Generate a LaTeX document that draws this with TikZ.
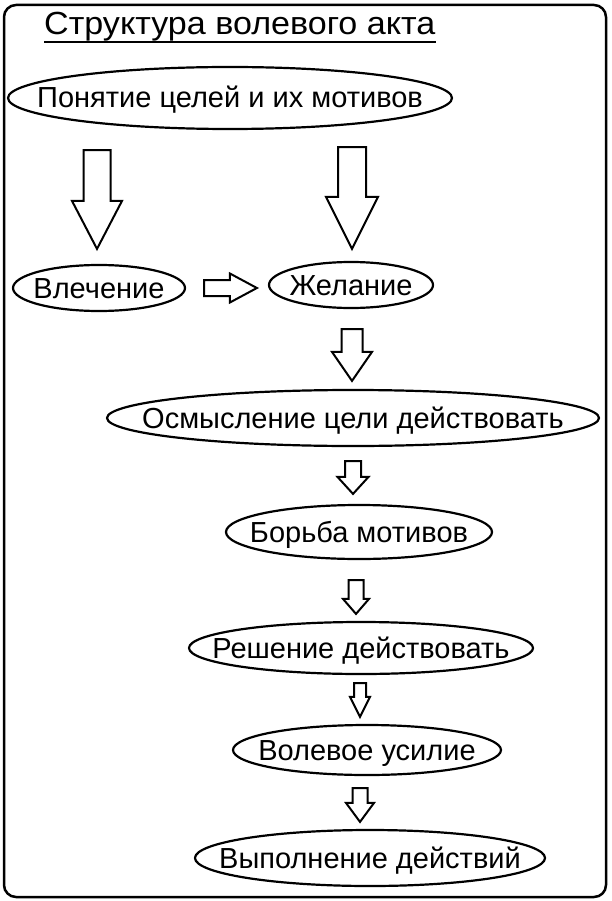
\documentclass[tikz,border=0pt]{standalone}
\usepackage{fontspec}
\setmainfont{Liberation Sans}
\newfontfamily\titlefont[FakeStretch=1.065]{Liberation Sans}
\usetikzlibrary{shapes.geometric,calc}

%% hollow block arrow: start, tip, shaft half width, head half width, head length
\newcommand{\fatarrow}[5]{%
  \coordinate (fa-s) at (#1);
  \coordinate (fa-t) at (#2);
  \coordinate (fa-h) at ($(fa-t)!#5pt!(fa-s)$);
  \draw[arrowdecorate] ($(fa-s)!#3pt!90:(fa-t)$) -- ($(fa-h)!#3pt!90:(fa-t)$)
    -- ($(fa-h)!#4pt!90:(fa-t)$) -- (fa-t) -- ($(fa-h)!#4pt!-90:(fa-t)$)
    -- ($(fa-h)!#3pt!-90:(fa-t)$) -- ($(fa-s)!#3pt!-90:(fa-t)$) -- cycle;
}

\begin{document}
\begin{tikzpicture}
[x=1pt,y=-1pt,
 nodedecorate/.style={shape=ellipse,draw,line width=2.2pt,inner sep=0pt,
   font=\fontsize{29}{32}\selectfont,text height=20pt,text depth=0pt},
 arrowdecorate/.style={draw,line width=2pt,line join=miter},
 framedecorate/.style={draw,line width=2.5pt,rounded corners=12pt},
 titledecorate/.style={anchor=base west,inner sep=0pt,
   font=\titlefont\fontsize{32}{36}\selectfont}]
\useasboundingbox (0,0) rectangle (611,901);
%%
%% frame and title
\draw[framedecorate] (4,5) rectangle (606,897);
\node (title) at (44,35) [titledecorate] {Структура волевого акта};
\draw[line width=2.8pt] ($(title.base west)+(0,7)$) -- ($(title.base east)+(0,7)$);
%%
%% stages
\foreach \nodename/\x/\y/\w/\h/\nodetext in {
  goals/230/98/444/62/Понятие целей и их мотивов,
  attraction/99/288/172/46/Влечение,
  desire/351/285/164/46/Желание,
  meaning/353/418/492/56/Осмысление цели действовать,
  struggle/359/532/266/54/Борьба мотивов,
  decision/361/648/344/52/Решение действовать,
  effort/367/750/268/50/Волевое усилие,
  execution/370/858/350/56/Выполнение действий} {
  \node (\nodename) at (\x,\y) [nodedecorate,minimum width=\w pt,
    minimum height=\h pt] {\makebox[0pt]{\nodetext}};
}
%%
%% arrows
\foreach \startnode/\endnode/\dx/\gapa/\gapb/\w/\W/\L in {
  goals/attraction/-2/20/15/13.5/25/48,
  goals/desire/1/17/12/14/26/52,
  desire/meaning/-1/20/8/10.5/20/29,
  meaning/struggle/-6/14/10/8/15.5/17,
  struggle/decision/-5/20/7/7.5/13/15,
  decision/effort/-7/8/7/6/10/20,
  effort/execution/-10/12/7/7.5/14/19} {
  \fatarrow{$(\startnode.south -| \endnode.north)+(\dx,\gapa)$}%
    {$(\endnode.north)+(\dx,-\gapb)$}{\w}{\W}{\L}
}
\fatarrow{$(attraction.east)+(18,0)$}{$(desire.west)+(-11,3)$}{8}{14.5}{27}
\end{tikzpicture}
\end{document}
